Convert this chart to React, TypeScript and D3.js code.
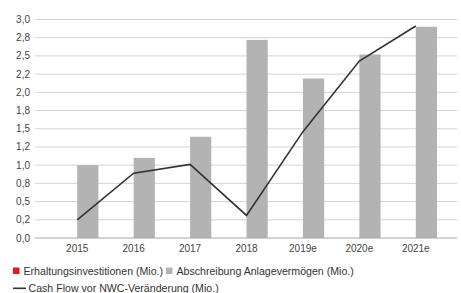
import React, { useEffect, useRef } from "react";
import * as d3 from "d3";

const years = ["2015", "2016", "2017", "2018", "2019e", "2020e", "2021e"];
const erhaltung = [0, 0, 0, 0, 0, 0, 0];
const abschreibung = [1.0, 1.1, 1.39, 2.72, 2.19, 2.52, 2.9];
const cashFlow = [0.25, 0.89, 1.01, 0.31, 1.46, 2.43, 2.91];
const yTicks = [0, 0.25, 0.5, 0.75, 1, 1.25, 1.5, 1.75, 2, 2.25, 2.5, 2.75, 3];
const yTickLabels = ["0,0", "0,2", "0,5", "0,8", "1,0", "1,2", "1,5", "1,8", "2,0", "2,2", "2,5", "2,8", "3,0"];

const seriesNames = ["Erhaltungsinvestitionen (Mio.)", "Abschreibung Anlagevermögen (Mio.)"];
const seriesColors = ["#e31a1c", "#b3b3b3"];
const lineName = "Cash Flow vor NWC-Veränderung (Mio.)";

const W = 461, H = 293;
const font = "'Liberation Sans', Arial, sans-serif";

export default function App() {
    const ref = useRef<SVGSVGElement>(null);

    useEffect(() => {
        const svg = d3.select(ref.current);
        svg.selectAll("*").remove();

        const x = d3.scaleBand().domain(years).range([49, 444]);
        const xSub = d3.scaleBand().domain(["0", "1"]).range([0, x.bandwidth()])
            .paddingInner(0).paddingOuter(0.33);
        const y = d3.scaleLinear().domain([0, 3]).range([238, 19.5]);

        // grid
        svg.append("g").selectAll("line")
            .data(yTicks.slice(1))
            .join("line")
            .attr("x1", 35).attr("x2", 457)
            .attr("y1", d => y(d)).attr("y2", d => y(d))
            .attr("stroke", "#d4d4d4").attr("stroke-width", 1);

        // y labels
        svg.append("g").selectAll("text")
            .data(yTicks)
            .join("text")
            .attr("x", 30).attr("y", d => y(d) + 3.5)
            .attr("text-anchor", "end")
            .attr("font-family", font).attr("font-size", 10).attr("fill", "#444")
            .text((d, i) => yTickLabels[i]);

        // bars
        const rows = years.map((yr, i) => ({ yr, vals: [erhaltung[i], abschreibung[i]] }));
        svg.append("g").selectAll("g")
            .data(rows)
            .join("g")
            .attr("transform", d => "translate(" + x(d.yr) + ",0)")
            .selectAll("rect")
            .data(d => d.vals.map((v, k) => ({ v, k })))
            .join("rect")
            .attr("x", d => xSub(String(d.k)) as number)
            .attr("width", xSub.bandwidth())
            .attr("y", d => y(d.v))
            .attr("height", d => y(0) - y(d.v))
            .attr("fill", d => seriesColors[d.k]);

        // baseline
        svg.append("line")
            .attr("x1", 35).attr("x2", 457)
            .attr("y1", y(0)).attr("y2", y(0))
            .attr("stroke", "#a6a6a6").attr("stroke-width", 1);

        // x labels
        svg.append("g").selectAll("text")
            .data(years)
            .join("text")
            .attr("x", d => (x(d) as number) + x.bandwidth() / 2)
            .attr("y", 251.5)
            .attr("text-anchor", "middle")
            .attr("font-family", font).attr("font-size", 10).attr("fill", "#444")
            .text(d => d);

        // line
        svg.append("path")
            .datum(cashFlow)
            .attr("fill", "none")
            .attr("stroke", "#333")
            .attr("stroke-width", 1.6)
            .attr("d", d3.line<number>()
                .x((d, i) => (x(years[i]) as number) + x.bandwidth() / 2)
                .y(d => y(d)));

        // legend
        const leg = svg.append("g").attr("font-family", font).attr("font-size", 10.6).attr("fill", "#333");
        leg.append("rect").attr("x", 13).attr("y", 267.5).attr("width", 6.5).attr("height", 6.5).attr("fill", seriesColors[0]);
        leg.append("text").attr("x", 23.5).attr("y", 275).text(seriesNames[0]);
        leg.append("rect").attr("x", 166).attr("y", 267.5).attr("width", 6.5).attr("height", 6.5).attr("fill", seriesColors[1]);
        leg.append("text").attr("x", 176.5).attr("y", 275).text(seriesNames[1]);
        leg.append("line").attr("x1", 13).attr("x2", 26).attr("y1", 288.3).attr("y2", 288.3)
            .attr("stroke", "#333").attr("stroke-width", 1.6);
        leg.append("text").attr("x", 28.5).attr("y", 292).text(lineName);
    }, []);

    return (
        <>
            <style>{"body{margin:0}"}</style>
            <svg ref={ref} width={W} height={H} style={{ display: "block", background: "#fff" }} />
        </>
    );
}
